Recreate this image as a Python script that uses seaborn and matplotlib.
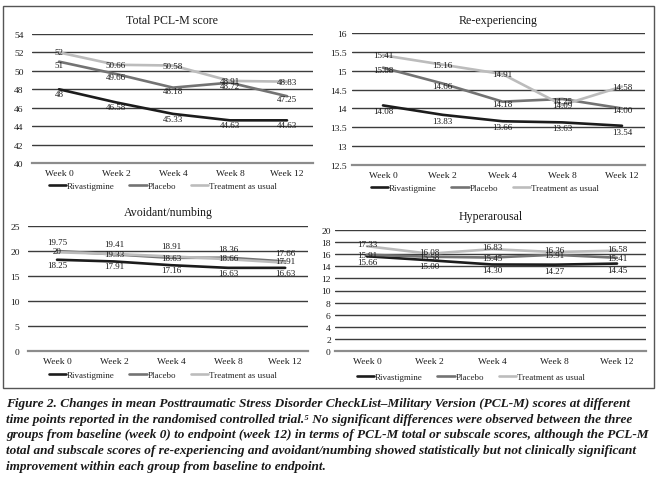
import numpy as np
import pandas as pd
import matplotlib.pyplot as plt
import matplotlib.patches as patches
from matplotlib.ticker import FuncFormatter
import seaborn as sns

# Data
weeks = ["Week 0", "Week 2", "Week 4", "Week 8", "Week 12"]
groups = ["Rivastigmine", "Placebo", "Treatment as usual"]

total_riv = [48, 46.58, 45.33, 44.63, 44.63]
total_plc = [51, 49.66, 48.18, 48.72, 47.25]
total_tau = [52, 50.66, 50.58, 48.91, 48.83]

reexp_riv = [14.08, 13.83, 13.66, 13.63, 13.54]
reexp_plc = [15.08, 14.66, 14.18, 14.25, 14.00]
reexp_tau = [15.41, 15.16, 14.91, 14.09, 14.58]

avoid_riv = [18.25, 17.91, 17.16, 16.63, 16.63]
avoid_plc = [20, 19.33, 18.63, 18.66, 17.91]
avoid_tau = [19.75, 19.41, 18.91, 18.36, 17.66]

hyper_riv = [15.66, 15.00, 14.30, 14.27, 14.45]
hyper_plc = [15.91, 15.58, 15.45, 15.91, 15.41]
hyper_tau = [17.33, 16.08, 16.83, 16.36, 16.58]

caption = ("Figure 2. Changes in mean Posttraumatic Stress Disorder CheckList\u2013Military Version (PCL-M) scores at different\n"
           "time points reported in the randomised controlled trial.\u2075 No significant differences were observed between the three\n"
           "groups from baseline (week 0) to endpoint (week 12) in terms of PCL-M total or subscale scores, although the PCL-M\n"
           "total and subscale scores of re-experiencing and avoidant/numbing showed statistically but not clinically significant\n"
           "improvement within each group from baseline to endpoint.")

palette = {"Rivastigmine": "#1c1c1c", "Placebo": "#737373", "Treatment as usual": "#bcbcbc"}

W, H = 656, 481


def px_rect(x0, x1, y0, y1):
    # pixel box (top-left origin) -> figure fraction rect
    return [x0 / W, (H - y1) / H, (x1 - x0) / W, (y1 - y0) / H]


def fmt_label(v, trim):
    if trim and float(v).is_integer():
        return str(int(v))
    return f"{v:.2f}"


panels = [
    dict(title="Total PCL-M score", data=(total_riv, total_plc, total_tau),
         ylim=(40, 54), step=2, trim=True, rect=px_rect(32, 313, 35, 164),
         xlim=(-0.474, 4.456), offs=(-5, -3, 0), leg=(163, 187), pad=6, title_y=21),
    dict(title="Re-experiencing", data=(reexp_riv, reexp_plc, reexp_tau),
         ylim=(12.5, 16), step=0.5, trim=False, rect=px_rect(352, 645, 34, 166),
         xlim=(-0.519, 4.385), offs=(-6, -2, 0), leg=(485, 189), pad=4, title_y=21),
    dict(title="Avoidant/numbing", data=(avoid_riv, avoid_plc, avoid_tau),
         ylim=(0, 25), step=5, trim=True, rect=px_rect(28, 308, 227, 352),
         xlim=(-0.509, 4.40), offs=(-5, 0, 10), leg=(163, 376), pad=6, title_y=213),
    dict(title="Hyperarousal", data=(hyper_riv, hyper_plc, hyper_tau),
         ylim=(0, 20), step=2, trim=False, rect=px_rect(335, 646, 231, 352),
         xlim=(-0.512, 4.464), offs=(-6, 0, 2), leg=(471, 378), pad=3, title_y=217),
]

sns.set_style("white")
plt.rcParams['font.family'] = ['Liberation Serif', 'DejaVu Serif']

fig = plt.figure(figsize=(W / 100, H / 100), dpi=100)

for p in panels:
    ax = fig.add_axes(p["rect"])
    rows = []
    for g, vals in zip(groups, p["data"]):
        for i, v in enumerate(vals):
            rows.append({"week": i, "score": v, "group": g})
    df = pd.DataFrame(rows)

    # gridlines first so the series sit on top
    lo, hi = p["ylim"]
    ticks = np.arange(lo, hi + p["step"] / 2, p["step"])
    for t in ticks[1:]:
        ax.axhline(t, color="#3c3c3c", lw=1.0, zorder=0)

    sns.lineplot(data=df, x="week", y="score", hue="group", hue_order=groups,
                 palette=palette, linewidth=1.9, legend=False, ax=ax, zorder=3)

    # data labels
    for g, vals, off in zip(groups, p["data"], p["offs"]):
        for i, v in enumerate(vals):
            ax.annotate(fmt_label(v, p["trim"]), (i, v), xytext=(0, off * 0.72),
                        textcoords="offset points", ha="center", va="center",
                        fontsize=6.5, color="#1a1a1a", zorder=4)

    ax.set_xlim(*p["xlim"])
    ax.set_ylim(lo, hi)
    ax.set_yticks(ticks)
    ax.yaxis.set_major_formatter(FuncFormatter(lambda v, pos: f"{v:g}"))
    ax.set_xticks(range(len(weeks)))
    ax.set_xticklabels(weeks)
    ax.tick_params(axis="both", length=0, labelsize=6.8, colors="#1a1a1a")
    ax.tick_params(axis="y", pad=p["pad"])
    ax.tick_params(axis="x", pad=4)
    ax.set_xlabel("")
    ax.set_ylabel("")
    for s in ["top", "right", "left"]:
        ax.spines[s].set_visible(False)
    ax.spines["bottom"].set_color("#8c8c8c")
    ax.spines["bottom"].set_linewidth(1.6)
    ax.patch.set_alpha(0)

    cx = (p["rect"][0] + p["rect"][2] / 2)
    fig.text(cx, 1 - p["title_y"] / H, p["title"], ha="center", va="center",
             fontsize=8.6, color="#1a1a1a")

    handles = [plt.Line2D([], [], color=palette[g], lw=1.9) for g in groups]
    ax.legend(handles, groups, loc="center", ncol=3, frameon=False,
              bbox_to_anchor=(p["leg"][0] / W, 1 - p["leg"][1] / H),
              bbox_transform=fig.transFigure, fontsize=6.5,
              handlelength=1.9, handletextpad=0.15, columnspacing=1.6,
              borderpad=0, borderaxespad=0)

# outer frame around the four panels
fig.patches.append(patches.Rectangle((3 / W, 1 - 389 / H), 651 / W, 382 / H,
                                     transform=fig.transFigure, fill=False,
                                     edgecolor="#555555", lw=1.0))

fig.text(6 / W, 1 - 398 / H, caption, ha="left", va="top", fontsize=9.55,
         fontweight="bold", fontstyle="italic", linespacing=1.41, color="#1a1a1a",
         family=['Liberation Serif', 'DejaVu Serif'])

fig.savefig("out.png", dpi=100)
